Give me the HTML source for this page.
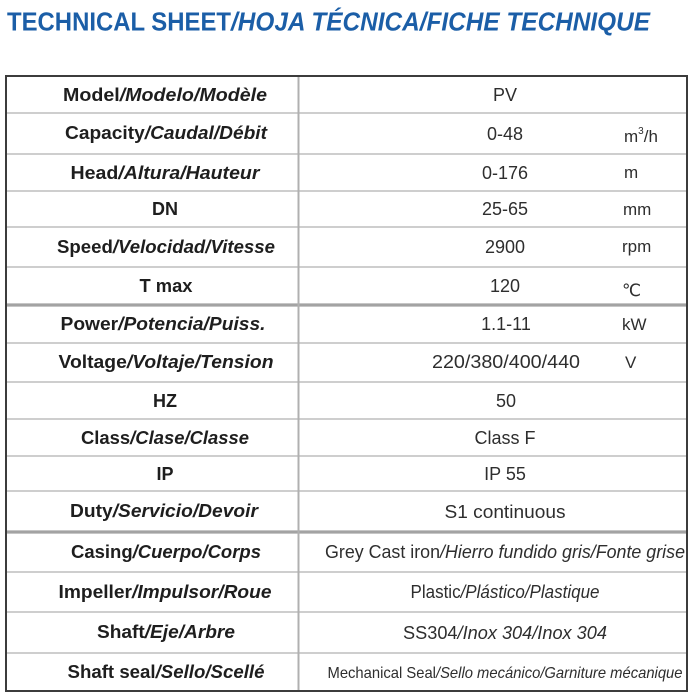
<!DOCTYPE html>
<html>
<head>
<meta charset="utf-8">
<style>
html,body{margin:0;padding:0;background:#fff;}
svg{display:block;}
.t{font-family:"Liberation Sans","DejaVu Sans",sans-serif;}
.lb{font-weight:bold;font-size:18px;fill:#1e1e1e;}
.v{font-size:18px;fill:#2e2e2e;}
.u{font-size:17px;fill:#2e2e2e;}
.i{font-style:italic;}
</style>
</head>
<body>
<svg width="700" height="700" viewBox="0 0 700 700" xmlns="http://www.w3.org/2000/svg">
<rect width="700" height="700" fill="#fff"/>
<!-- Title -->
<text class="t" x="7" y="30.5" font-size="26" font-weight="bold" fill="#1b5ea7" textLength="224" lengthAdjust="spacingAndGlyphs">TECHNICAL SHEET</text>
<text class="t" x="231" y="30.5" font-size="26" font-weight="bold" font-style="italic" fill="#1b5ea7" textLength="419" lengthAdjust="spacingAndGlyphs">/HOJA TÉCNICA/FICHE TECHNIQUE</text>

<!-- inner horizontal lines -->
<g stroke="#bdbdbd" stroke-width="1.6">
<line x1="6" y1="113" x2="687" y2="113"/>
<line x1="6" y1="154" x2="687" y2="154"/>
<line x1="6" y1="191" x2="687" y2="191"/>
<line x1="6" y1="227" x2="687" y2="227"/>
<line x1="6" y1="267" x2="687" y2="267"/>
<line x1="6" y1="343" x2="687" y2="343"/>
<line x1="6" y1="382" x2="687" y2="382"/>
<line x1="6" y1="419" x2="687" y2="419"/>
<line x1="6" y1="456" x2="687" y2="456"/>
<line x1="6" y1="491" x2="687" y2="491"/>
<line x1="6" y1="572" x2="687" y2="572"/>
<line x1="6" y1="612" x2="687" y2="612"/>
<line x1="6" y1="653" x2="687" y2="653"/>
</g>
<g stroke="#a3a3a3" stroke-width="3.2">
<line x1="6" y1="305" x2="687" y2="305"/>
<line x1="6" y1="532" x2="687" y2="532"/>
</g>
<!-- column divider -->
<line x1="298.5" y1="76" x2="298.5" y2="691" stroke="#b0b0b0" stroke-width="2"/>
<!-- outer border -->
<rect x="6" y="76" width="681" height="615" fill="none" stroke="#3c3c3c" stroke-width="2"/>

<!-- Labels -->
<g class="t lb" text-anchor="middle">
<text x="165" y="101" textLength="204" lengthAdjust="spacingAndGlyphs">Model<tspan class="i">/Modelo/Modèle</tspan></text>
<text x="166" y="139" textLength="202" lengthAdjust="spacingAndGlyphs">Capacity<tspan class="i">/Caudal/Débit</tspan></text>
<text x="165" y="179" textLength="189" lengthAdjust="spacingAndGlyphs">Head<tspan class="i">/Altura/Hauteur</tspan></text>
<text x="165" y="215">DN</text>
<text x="166" y="253" textLength="218" lengthAdjust="spacingAndGlyphs">Speed<tspan class="i">/Velocidad/Vitesse</tspan></text>
<text x="166" y="292" textLength="53" lengthAdjust="spacingAndGlyphs">T max</text>
<text x="163" y="330" textLength="205" lengthAdjust="spacingAndGlyphs">Power<tspan class="i">/Potencia/Puiss.</tspan></text>
<text x="166" y="368" textLength="215" lengthAdjust="spacingAndGlyphs">Voltage<tspan class="i">/Voltaje/Tension</tspan></text>
<text x="165" y="407">HZ</text>
<text x="165" y="444" textLength="168" lengthAdjust="spacingAndGlyphs">Class<tspan class="i">/Clase/Classe</tspan></text>
<text x="165" y="480">IP</text>
<text x="164" y="517" textLength="188" lengthAdjust="spacingAndGlyphs">Duty<tspan class="i">/Servicio/Devoir</tspan></text>
<text x="166" y="558" textLength="190" lengthAdjust="spacingAndGlyphs">Casing<tspan class="i">/Cuerpo/Corps</tspan></text>
<text x="165" y="598" textLength="213" lengthAdjust="spacingAndGlyphs">Impeller<tspan class="i">/Impulsor/Roue</tspan></text>
<text x="166" y="638" textLength="138" lengthAdjust="spacingAndGlyphs">Shaft<tspan class="i">/Eje/Arbre</tspan></text>
<text x="166" y="678" textLength="197" lengthAdjust="spacingAndGlyphs">Shaft seal<tspan class="i">/Sello/Scellé</tspan></text>
</g>

<!-- Values -->
<g class="t v" text-anchor="middle">
<text x="505" y="101">PV</text>
<text x="505" y="140">0-48</text>
<text x="505" y="179">0-176</text>
<text x="505" y="215">25-65</text>
<text x="505" y="253">2900</text>
<text x="505" y="292">120</text>
<text x="506" y="330">1.1-11</text>
<text x="506" y="368" textLength="148" lengthAdjust="spacingAndGlyphs">220/380/400/440</text>
<text x="506" y="407">50</text>
<text x="505" y="444">Class F</text>
<text x="505" y="480">IP 55</text>
<text x="505" y="518" textLength="121" lengthAdjust="spacingAndGlyphs">S1 continuous</text>
<text x="505" y="558" textLength="360" lengthAdjust="spacingAndGlyphs">Grey Cast iron<tspan class="i">/Hierro fundido gris/Fonte grise</tspan></text>
<text x="505" y="598" textLength="189" lengthAdjust="spacingAndGlyphs">Plastic<tspan class="i">/Plástico/Plastique</tspan></text>
<text x="505" y="639" textLength="204" lengthAdjust="spacingAndGlyphs">SS304<tspan class="i">/Inox 304/Inox 304</tspan></text>
<text x="505" y="678" font-size="16" textLength="355" lengthAdjust="spacingAndGlyphs">Mechanical Seal<tspan class="i">/Sello mecánico/Garniture mécanique</tspan></text>
</g>

<!-- Units -->
<g class="t u">
<text x="624" y="142">m<tspan font-size="10" dy="-8">3</tspan><tspan dy="8">/h</tspan></text>
<text x="624" y="178">m</text>
<text x="623" y="215">mm</text>
<text x="622" y="252">rpm</text>
<text x="622" y="296">℃</text>
<text x="622" y="330">kW</text>
<text x="625" y="368">V</text>
</g>
</svg>
</body>
</html>
